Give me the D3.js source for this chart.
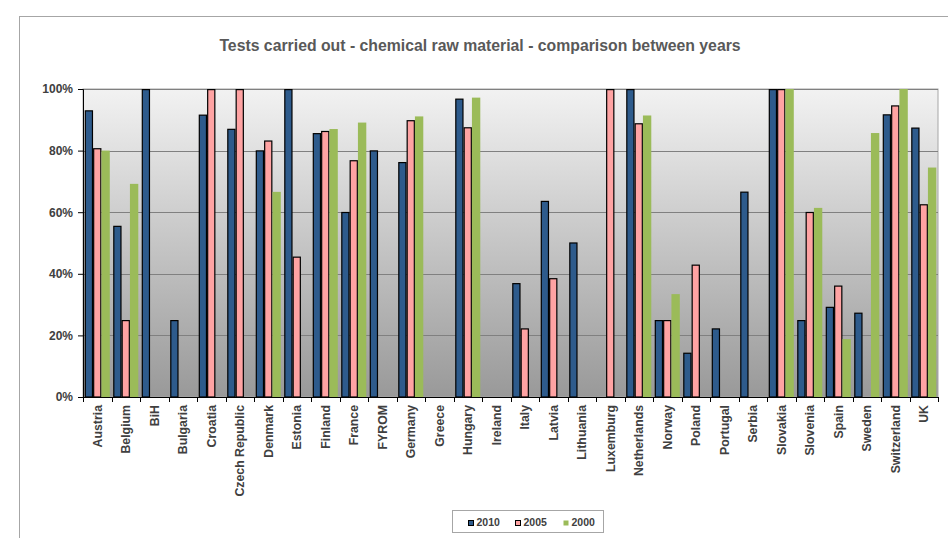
<!DOCTYPE html>
<html><head><meta charset="utf-8">
<script src="https://cdn.jsdelivr.net/npm/d3@7"></script>
<style>body{margin:0;background:#fff;}svg{display:block;font-family:Arial,"Liberation Sans",sans-serif;}</style>
</head><body>
<script>
const categories = ["Austria","Belgium","BiH","Bulgaria","Croatia","Czech Republic","Denmark","Estonia","Finland","France","FYROM","Germany","Greece","Hungary","Ireland","Italy","Latvia","Lithuania","Luxemburg","Netherlands","Norway","Poland","Portugal","Serbia","Slovakia","Slovenia","Spain","Sweden","Switzerland","UK"];
const series = ["2010","2005","2000"];
const v2010 = [93.1,55.6,100,25,91.7,87.1,80.1,100,85.7,60.1,80.1,76.3,null,96.9,null,37.0,63.7,50.2,null,100,25,14.4,22.3,66.7,100,25,29.3,27.4,91.8,87.5];
const v2005 = [80.8,25,null,null,100,100,83.3,45.6,86.4,76.9,null,89.9,null,87.6,null,22.3,38.6,null,100,88.9,25,43.0,null,null,100,60.1,36.2,null,94.7,62.6];
const v2000 = [80,69.2,null,null,null,null,66.6,null,87.0,89.1,null,91.1,null,97.2,null,null,null,null,null,91.4,33.4,null,null,null,100,61.4,18.8,85.7,100,74.5];
const yTicks = [0,20,40,60,80,100];
const colors = {"2010":"#2E5B8C","2005":"#FFA3A3","2000":"#9BBB59"};
const strokes = {"2010":"#000","2005":"#000","2000":"none"};
const values = {"2010":v2010,"2005":v2005,"2000":v2000};
const FONT = "Arial, 'Liberation Sans', sans-serif";

const W=948,H=538;
const svg=d3.select("body").append("svg").attr("width",W).attr("height",H);
svg.append("rect").attr("x",19.5).attr("y",16.5).attr("width",W).attr("height",H).attr("fill","#fff").attr("stroke","#a6a6a6");

const pl=83, pr=938, pt=89, pb=397;
const x=d3.scaleBand().domain(categories).range([pl,pr]).paddingInner(0.12).paddingOuter(0.06);
const xs=d3.scaleBand().domain(series).range([0,x.bandwidth()]);
const y=d3.scaleLinear().domain([0,100]).range([pb,pt]);

const defs=svg.append("defs");
const g=defs.append("linearGradient").attr("id","bg").attr("x1",0).attr("y1",0).attr("x2",0).attr("y2",1);
g.append("stop").attr("offset","0%").attr("stop-color","#f2f2f2");
g.append("stop").attr("offset","100%").attr("stop-color","#999999");
svg.append("rect").attr("x",pl).attr("y",pt).attr("width",pr-pl).attr("height",pb-pt).attr("fill","url(#bg)").attr("stroke","#a6a6a6");

svg.append("g").selectAll("line").data(yTicks.filter(d=>d>0)).join("line")
  .attr("x1",pl).attr("x2",pr).attr("y1",d=>Math.round(y(d))+0.5).attr("y2",d=>Math.round(y(d))+0.5)
  .attr("stroke","#808080").attr("stroke-width",1);

const groups=svg.append("g").selectAll("g").data(categories).join("g").attr("transform",d=>`translate(${x(d)},0)`);
series.forEach(s=>{
  const st = s!=="2000";
  groups.filter((d,i)=>values[s][i]!=null).append("rect")
    .attr("x",xs(s)+(st?0.6:0)).attr("width",xs.bandwidth()-(st?1.2:0))
    .attr("y",d=>y(values[s][categories.indexOf(d)])+(st?0.6:0))
    .attr("height",d=>pb-y(values[s][categories.indexOf(d)])-(st?0.6:0))
    .attr("fill",colors[s]).attr("stroke",strokes[s]).attr("stroke-width",1.2);
});

const ya=svg.append("g").attr("transform",`translate(${pl},0)`).call(d3.axisLeft(y).tickValues(yTicks).tickFormat(d=>d+"%").tickSize(5).tickPadding(5));
ya.select(".domain").attr("stroke","#000");
ya.selectAll(".tick line").attr("stroke","#000");
ya.selectAll("text").attr("font-size",12).attr("font-weight","bold").attr("fill","#404040").attr("font-family",FONT);

const xa=svg.append("g").attr("transform",`translate(0,${pb})`).call(d3.axisBottom(x).tickSize(0).tickSizeOuter(0));
xa.select(".domain").attr("stroke","#000");
xa.selectAll(".tick text").attr("font-size",12.3).attr("font-weight","bold").attr("fill","#404040")
  .attr("font-family",FONT)
  .attr("transform","rotate(-90)").attr("text-anchor","end").attr("x",-8).attr("y",0).attr("dy","0.35em");
const bounds=d3.range(categories.length+1).map(i=>pl+(pr-pl)*i/categories.length);
svg.append("g").selectAll("line").data(bounds).join("line")
  .attr("x1",d=>Math.round(d)+0.5).attr("x2",d=>Math.round(d)+0.5).attr("y1",pb).attr("y2",pb+5).attr("stroke","#000");

svg.append("text").attr("x",480).attr("y",51).attr("text-anchor","middle").attr("font-size",15.8).attr("font-weight","bold").attr("fill","#595959")
  .attr("font-family",FONT)
  .text("Tests carried out - chemical raw material - comparison between years");

const lg=svg.append("g");
lg.append("rect").attr("x",452.5).attr("y",510.5).attr("width",151).attr("height",22).attr("fill","#fff").attr("stroke","#a6a6a6");
const lx=[468,515,563];
series.forEach((s,i)=>{
  lg.append("rect").attr("x",lx[i]+0.5).attr("y",520.5).attr("width",5).attr("height",5).attr("fill",colors[s]).attr("stroke",strokes[s]);
  lg.append("text").attr("x",lx[i]+8.5).attr("y",526).attr("font-size",10.5).attr("font-weight","bold").attr("fill","#404040").attr("font-family",FONT).text(s);
});
</script>
</body></html>
